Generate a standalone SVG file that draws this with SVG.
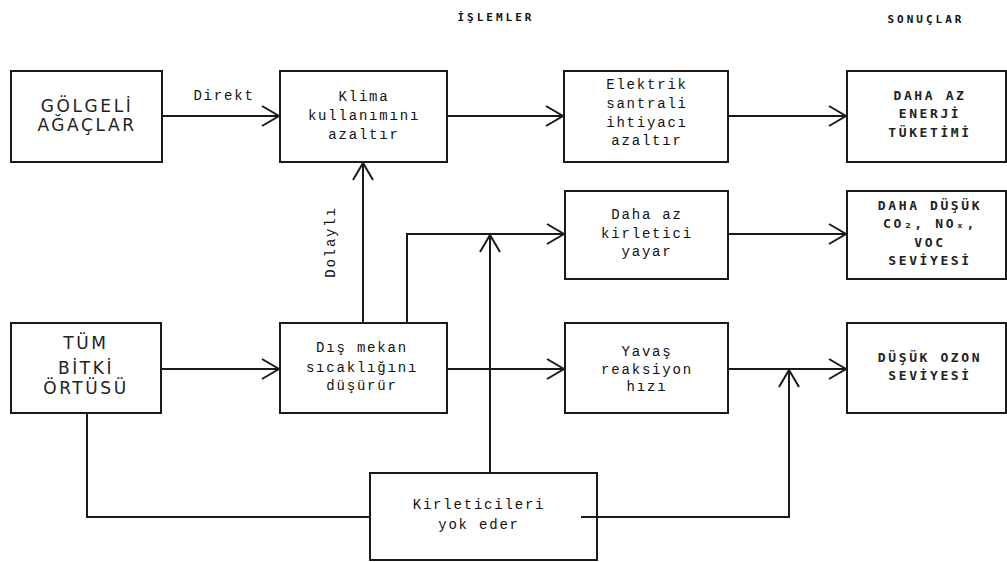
<svg xmlns="http://www.w3.org/2000/svg" width="1007" height="562" viewBox="0 0 1007 562">
<style>
.box{fill:#fff;stroke:#1a1a1a;stroke-width:2}
.ln{fill:none;stroke:#1a1a1a;stroke-width:2}
.arr{marker-end:url(#ah)}
.t{font-family:"Liberation Mono","DejaVu Sans Mono",monospace;font-size:14px;letter-spacing:1.8px;fill:#111;text-anchor:middle}
.r{font-family:"DejaVu Sans Mono","Liberation Mono",monospace;font-size:13px;font-weight:bold;letter-spacing:2.6px;fill:#222;text-anchor:middle}
.s{font-family:"DejaVu Sans","Liberation Sans",sans-serif;font-size:17px;letter-spacing:2.6px;fill:#222;text-anchor:middle}
.h{font-family:"DejaVu Sans Mono","Liberation Mono",monospace;font-size:11px;font-weight:bold;letter-spacing:3px;fill:#111;text-anchor:middle}
</style>
<defs>
<marker id="ah" markerUnits="userSpaceOnUse" viewBox="-19 -12 21 24" refX="0" refY="0" markerWidth="21" markerHeight="24" orient="auto">
<path d="M-17 -10 L0 0 L-17 10" fill="none" stroke="#1a1a1a" stroke-width="2"/>
</marker>
</defs>
<rect width="1007" height="562" fill="#fff"/>
<g id="titles">
<text class="h" x="496" y="21">İŞLEMLER</text>
<text class="h" x="926" y="23">SONUÇLAR</text>
</g>
<g id="connectors">
<path class="ln arr" d="M162 116 H279"/>
<path class="ln arr" d="M447 116 H563"/>
<path class="ln arr" d="M728 116 H846"/>
<path class="ln arr" d="M363 323 V163"/>
<path class="ln arr" d="M407 323 V234 H564"/>
<path class="ln arr" d="M490 473 V235"/>
<path class="ln arr" d="M161 369 H279"/>
<path class="ln arr" d="M447 369 H564"/>
<path class="ln arr" d="M728 234 H846"/>
<path class="ln arr" d="M728 369 H846"/>
<path class="ln arr" d="M581 517 H789 V370"/>
<path class="ln" d="M87 413 V517 H370"/>
<text class="t" x="224" y="100">Direkt</text>
<text class="t" x="0" y="0" transform="translate(335 242) rotate(-90)">Dolaylı</text>
</g>
<g id="golgeli">
<rect class="box" x="11" y="71" width="151" height="91"/>
<text class="s" x="87" y="112">GÖLGELİ</text>
<text class="s" x="87" y="131">AĞAÇLAR</text>
</g>
<g id="klima">
<rect class="box" x="280" y="71" width="167" height="91"/>
<text class="t" x="364" y="101">Klima</text>
<text class="t" x="364" y="120">kullanımını</text>
<text class="t" x="364" y="139">azaltır</text>
</g>
<g id="elektrik">
<rect class="box" x="564" y="71" width="164" height="91"/>
<text class="t" x="647" y="89">Elektrik</text>
<text class="t" x="647" y="108">santrali</text>
<text class="t" x="647" y="127">ihtiyacı</text>
<text class="t" x="647" y="145">azaltır</text>
</g>
<g id="enerji">
<rect class="box" x="847" y="71" width="159" height="91"/>
<text class="r" x="930" y="100">DAHA AZ</text>
<text class="r" x="930" y="118">ENERJİ</text>
<text class="r" x="930" y="137">TÜKETİMİ</text>
</g>
<g id="dahaaz">
<rect class="box" x="565" y="191" width="163" height="88"/>
<text class="t" x="647" y="219">Daha az</text>
<text class="t" x="647" y="238">kirletici</text>
<text class="t" x="647" y="256">yayar</text>
</g>
<g id="co2">
<rect class="box" x="847" y="191" width="159" height="88"/>
<text class="r" x="930" y="210">DAHA DÜŞÜK</text>
<text class="r" x="930" y="228">CO₂, NOₓ,</text>
<text class="r" x="930" y="247">VOC</text>
<text class="r" x="930" y="265">SEVİYESİ</text>
</g>
<g id="tum">
<rect class="box" x="11" y="323" width="150" height="90"/>
<text class="s" x="86" y="349">TÜM</text>
<text class="s" x="86" y="374">BİTKİ</text>
<text class="s" x="86" y="394">ÖRTÜSÜ</text>
</g>
<g id="dismekan">
<rect class="box" x="280" y="323" width="167" height="90"/>
<text class="t" x="362" y="352">Dış mekan</text>
<text class="t" x="362" y="372">sıcaklığını</text>
<text class="t" x="362" y="390">düşürür</text>
</g>
<g id="yavas">
<rect class="box" x="565" y="323" width="163" height="90"/>
<text class="t" x="647" y="356">Yavaş</text>
<text class="t" x="647" y="374">reaksiyon</text>
<text class="t" x="647" y="391">hızı</text>
</g>
<g id="ozon">
<rect class="box" x="847" y="323" width="159" height="90"/>
<text class="r" x="930" y="362">DÜŞÜK OZON</text>
<text class="r" x="930" y="380">SEVİYESİ</text>
</g>
<g id="kirleticileri">
<rect class="box" x="370" y="473" width="227" height="87"/>
<text class="t" x="479" y="509">Kirleticileri</text>
<text class="t" x="479" y="529">yok eder</text>
<path class="ln" d="M581 517 H597"/>
</g>
</svg>
